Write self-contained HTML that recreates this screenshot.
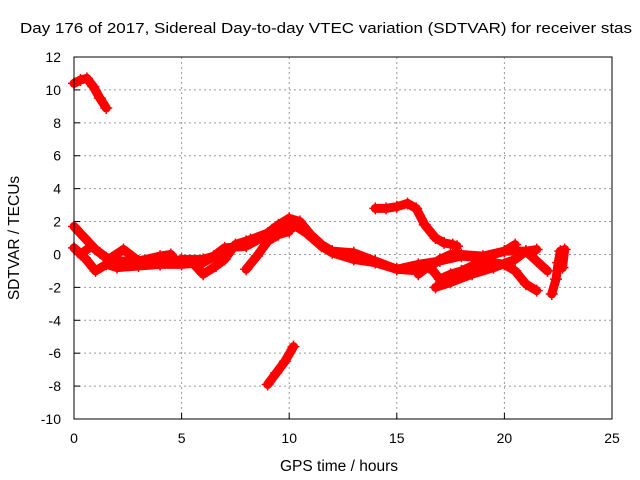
<!DOCTYPE html>
<html><head><meta charset="utf-8"><style>
body{margin:0;background:#fff}
svg{display:block;font-family:"Liberation Sans",sans-serif}
</style></head><body>
<svg id="c" width="640" height="480">
<text x="20" y="33" font-size="15" textLength="612" lengthAdjust="spacingAndGlyphs">Day 176 of 2017, Sidereal Day-to-day VTEC variation (SDTVAR) for receiver stas</text>
<text transform="translate(19,238) rotate(-90)" text-anchor="middle" font-size="15.5">SDTVAR / TECUs</text>
<text x="339" y="471" text-anchor="middle" font-size="15.5">GPS time / hours</text>
<g id="grid"></g><g id="marks"></g>
<rect x="74" y="57" width="538" height="362" fill="none" stroke="#000"/>
</svg>
<script>
const xTicks=[0,5,10,15,20,25];
const yTicks=[-10,-8,-6,-4,-2,0,2,4,6,8,10,12];
const s1T=[0,0.3,0.6,0.9,1.2,1.5], s1V=[10.4,10.6,10.7,10.2,9.5,8.9];
const s2T=[9,9.4,9.8,10.2], s2V=[-7.9,-7.2,-6.5,-5.6];
const s3T=[14,14.5,15,15.5,15.9,16.3,16.8,17.2,17.6,17.8], s3V=[2.8,2.8,2.9,3.1,2.8,1.8,1.0,0.7,0.6,0.5];
const aT=[0,0.5,1,1.5,2,3,4,5,6,7,8,9,9.5,10,10.5,11,11.5,12,13,14,15,16,17,18,19,20,21,21.5];
const aV=[1.7,1.0,0.3,-0.2,-0.4,-0.4,-0.6,-0.6,-0.5,0.2,0.8,1.3,1.8,2.2,2.0,1.2,0.6,0.2,0.1,-0.4,-0.9,-0.6,-0.4,-0.1,-0.2,0.2,0.2,0.3];
const bT=[0,0.5,1,1.5,2,3,4,5,6,6.5,7,8,8.7,9.2,9.7,10.2,10.8,11.5,12,13,14,15,16,16.5,17,17.5,18,19,20,20.5];
const bV=[0.4,-0.2,-1.0,-0.6,-0.8,-0.7,-0.6,-0.3,-0.3,-0.1,0.4,0.5,1.0,1.5,1.7,1.8,1.3,0.5,0.1,-0.3,-0.5,-0.9,-1.0,-0.8,-0.3,0,0,-0.1,0.2,0.6];
const cT=[0.3,0.8,1.2,1.6,2.3,3,4,4.5,4.8,5.5,6,6.6,7,7.5,8.2];
const cV=[0,0.5,0.1,-0.3,0.3,-0.4,-0.1,0,-0.5,-0.5,-1.2,-0.7,-0.3,0.6,0.9];
const dT=[8,8.5,9,9.5,10], dV=[-0.9,-0.1,0.8,1.2,1.4];
const eT=[16,16.5,17,17.5,18,18.5,19.5,20,20.5,21,21.5], eV=[-1.2,-0.7,-1.5,-1.2,-1.0,-0.7,-0.5,-0.6,-1.0,-1.8,-2.2];
const fT=[16.8,17.5,18.5,19.5,20.5,21,21.5,22], fV=[-2.0,-1.7,-1.2,-0.8,-0.3,0.2,-0.4,-1.0];
const gT=[22.2,22.4,22.5,22.6,22.8,22.7], gV=[-2.4,-1.5,-0.5,0.2,0.3,-0.8];
const series=[[s1T,s1V],[s2T,s2V],[s3T,s3V],[aT,aV],[bT,bV],[cT,cV],[dT,dV],[eT,eV],[fT,fV],[gT,gV]];
const X=t=>74+t*538/25, Y=v=>57+(12-v)*362/22;
const NS="http://www.w3.org/2000/svg";
const grid=document.getElementById('grid'), marks=document.getElementById('marks');
function mk(tag,at,p){const e=document.createElementNS(NS,tag);for(const k in at)e.setAttribute(k,at[k]);p.appendChild(e);return e;}
xTicks.forEach(t=>{
  if(t>0&&t<25){const l=mk('line',{x1:X(t),x2:X(t),y1:57,y2:419,stroke:'#999','stroke-dasharray':'2,3'},grid);
  
  }
  const tl=mk('text',{x:X(t),y:443,'text-anchor':'middle','font-size':14},grid);tl.textContent=t;
  
  
  mk('line',{x1:X(t),x2:X(t),y1:419,y2:413,stroke:'#000'},grid);
});
yTicks.forEach(v=>{
  if(v>-10&&v<12){const l=mk('line',{x1:74,x2:612,y1:Y(v),y2:Y(v),stroke:'#999','stroke-dasharray':'2,3'},grid);
  
  }
  const tl=mk('text',{x:61,y:Y(v)+5,'text-anchor':'end','font-size':14},grid);tl.textContent=v;
  
  
  mk('line',{x1:74,x2:80,y1:Y(v),y2:Y(v),stroke:'#000'},grid);
});
series.forEach(([T,V],i)=>{
  const pl=mk('polyline',{points:T.map((t,j)=>X(t)+','+Y(V[j])).join(' '),fill:'none',stroke:'#f00','stroke-width':9,'stroke-linejoin':'round','stroke-linecap':'round'},marks);
  
  
  T.forEach((t,j)=>{const x=X(t),y=Y(V[j]);
    const p=mk('path',{d:`M${x-6},${y}h12M${x},${y-6}v12`,stroke:'#f00','stroke-width':1.5},marks);
    
    });
});
</script>
</body></html>
